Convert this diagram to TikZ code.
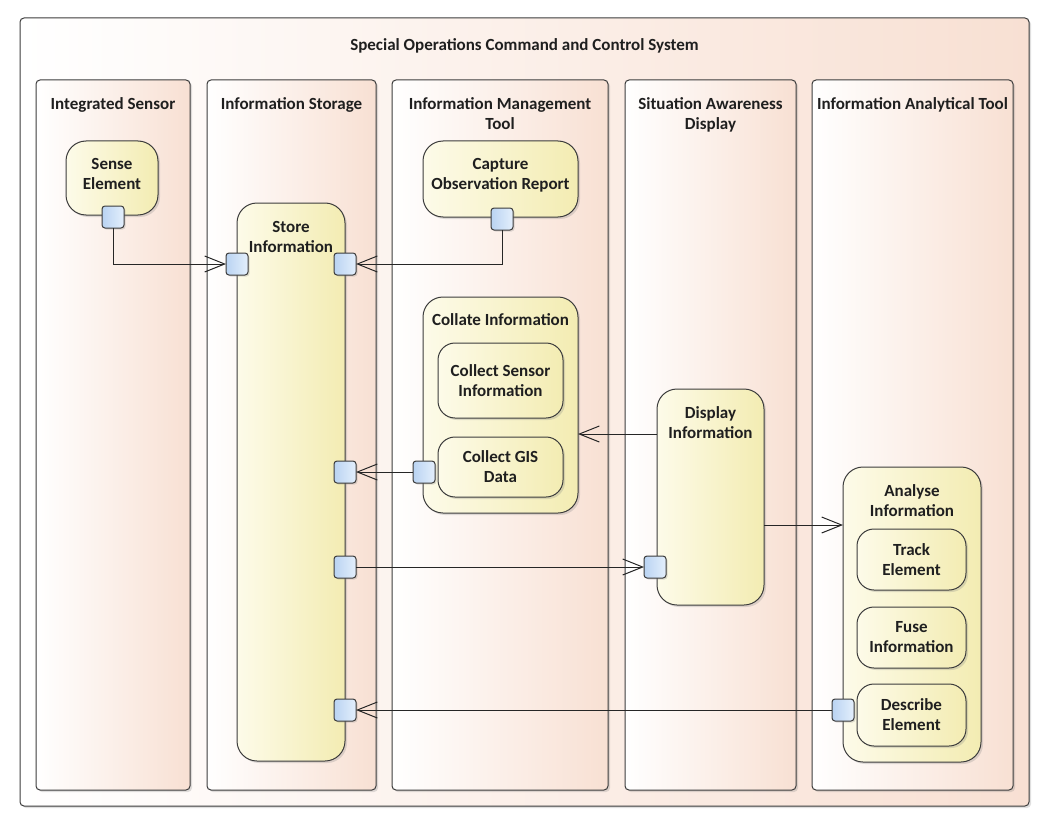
\documentclass[tikz,border=0pt]{standalone}
\usepackage{fontspec}
\setmainfont{Carlito}
\usetikzlibrary{arrows.meta, positioning, shadows}

\definecolor{lanepeach}{HTML}{F8E0D3}
\definecolor{actlight}{HTML}{FDFBE9}
\definecolor{actdark}{HTML}{F3ECB2}
\definecolor{portlight}{HTML}{E4EFFC}
\definecolor{portdark}{HTML}{B9D3F2}
\definecolor{edgegray}{HTML}{3C3C3C}

\begin{document}
\begin{tikzpicture}[x=1pt, y=-1pt,
        every node/.style={font=\fontsize{17}{20}\selectfont\bfseries, text=black!88, inner sep=0pt, outer sep=0pt},
        lane/.style={draw=edgegray, line width=1pt, rounded corners=4pt, left color=white, right color=lanepeach, anchor=north west,
            drop shadow={shadow xshift=2pt, shadow yshift=-2pt, opacity=0.25}},
        act/.style={draw=edgegray, line width=1pt, rounded corners=20pt, left color=actlight, right color=actdark, anchor=north west,
            drop shadow={shadow xshift=2pt, shadow yshift=-2pt, opacity=0.25}},
        subact/.style={act, rounded corners=17pt, align=center},
        portbox/.style={draw=edgegray, line width=1pt, rounded corners=3pt, left color=portdark, right color=portlight, minimum size=22pt,
            drop shadow={shadow xshift=1.5pt, shadow yshift=-1.5pt, opacity=0.25}},
        heading/.style={align=center, anchor=north},
        flow/.style={draw=black!85, line width=1pt, -{Straight Barb[length=20pt, width=16pt, line width=1pt]}}
    ]
        \useasboundingbox (0,0) rectangle (1049,824);

        % Rahmen und Bahnen
        \node[lane, minimum width=1009pt, minimum height=788pt] (system) at (20,18) {};
        \node[heading, below=21pt of system.north] {Special Operations Command and Control System};

        \node[lane, minimum width=154pt, minimum height=710pt] (sensorlane) at (36,80) {};
        \node[lane, minimum width=169pt, minimum height=710pt] (storagelane) at (207,80) {};
        \node[lane, minimum width=216pt, minimum height=710pt] (mgmtlane) at (392,80) {};
        \node[lane, minimum width=171pt, minimum height=710pt] (displane) at (625,80) {};
        \node[lane, minimum width=201pt, minimum height=710pt] (analysislane) at (812,80) {};

        \node[heading, below=18pt of sensorlane.north] {Integrated Sensor};
        \node[heading, below=18pt of storagelane.north] {Information Storage};
        \node[heading, below=18pt of mgmtlane.north] {Information Management\\Tool};
        \node[heading, below=18pt of displane.north] {Situation Awareness\\Display};
        \node[heading, below=18pt of analysislane.north] {Information Analytical Tool};

        % Aktivitaeten
        \node[act, minimum width=92pt, minimum height=74pt] (sense) at (66,141) {};
        \node[heading, below=17pt of sense.north] {Sense\\Element};

        \node[act, minimum width=108pt, minimum height=558pt] (store) at (237,203) {};
        \node[heading, below=18pt of store.north] {Store\\Information};

        \node[act, minimum width=155pt, minimum height=76pt] (capture) at (423,141) {};
        \node[heading, below=17pt of capture.north] {Capture\\Observation Report};

        \node[act, minimum width=155pt, minimum height=216pt] (collate) at (423,297) {};
        \node[heading, below=17pt of collate.north] {Collate Information};
        \node[subact, minimum width=125pt, minimum height=75pt] (sensorinfo) at (438,343) {Collect Sensor\\Information};
        \node[subact, minimum width=125pt, minimum height=60pt] (gisdata) at (438,437) {Collect GIS\\Data};

        \node[act, minimum width=107pt, minimum height=216pt] (display) at (657,389) {};
        \node[heading, below=18pt of display.north] {Display\\Information};

        \node[act, minimum width=138pt, minimum height=295pt] (analyse) at (843,467) {};
        \node[heading, below=18pt of analyse.north] {Analyse\\Information};
        \node[subact, minimum width=109pt, minimum height=61pt] (track) at (857,529) {Track\\Element};
        \node[subact, minimum width=109pt, minimum height=61pt] (fuse) at (857,607) {Fuse\\Information};
        \node[subact, minimum width=109pt, minimum height=62pt] (describe) at (857,684) {Describe\\Element};

        % Pins
        \node[portbox] (senseout) at (113,217) {};
        \node[portbox] (captureout) at (502,219) {};
        \node[portbox] (storein1) at (237,264) {};
        \node[portbox] (storein2) at (345,264) {};
        \node[portbox] (storein3) at (345,472) {};
        \node[portbox] (storeout) at (345,567) {};
        \node[portbox] (storein4) at (345,710) {};
        \node[portbox] (gisout) at (424,472) {};
        \node[portbox] (dispin) at (655,567) {};
        \node[portbox] (descout) at (843,710) {};

        % Fluesse
        \draw[flow] (senseout.south) |- (storein1.west);
        \draw[flow] (captureout.south) |- (storein2.east);
        \draw[flow] (gisout.west) -- (storein3.east);
        \draw[flow] ([yshift=-45pt]display.north west) -- ([yshift=-45pt]display.north west -| collate.east);
        \draw[flow] (storeout.east) -- (dispin.west);
        \draw[flow] ([yshift=-28pt]display.east) -- ([yshift=-28pt]display.east -| analyse.west);
        \draw[flow] (descout.west) -- (storein4.east);
    \end{tikzpicture}
\end{document}
